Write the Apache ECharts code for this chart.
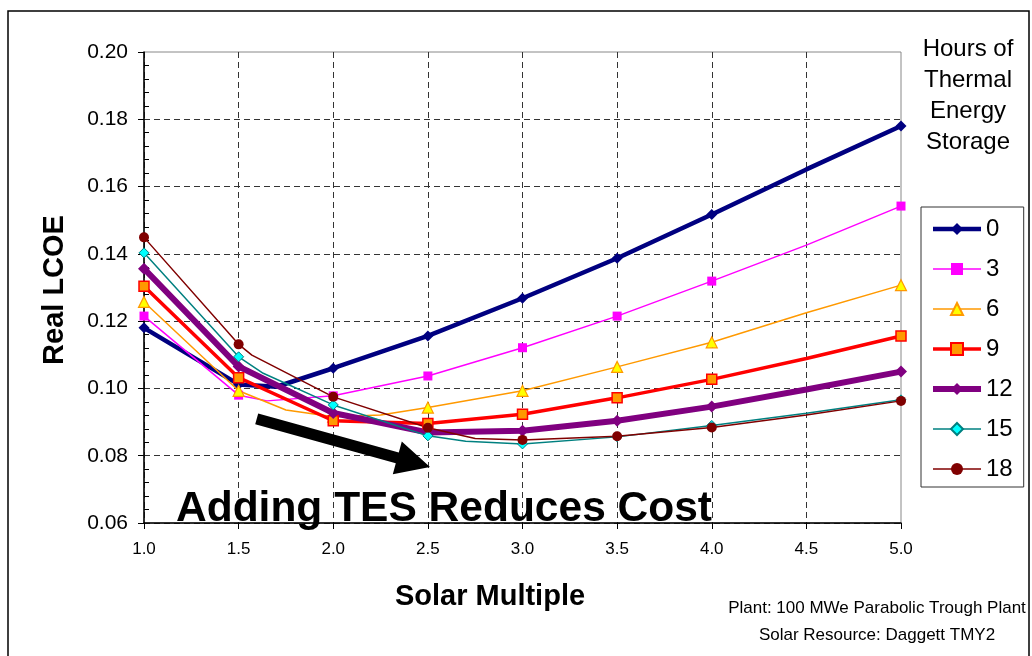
<!DOCTYPE html>
<html>
<head>
<meta charset="utf-8">
<script src="https://cdn.jsdelivr.net/npm/echarts@6/dist/echarts.min.js"></script>
<style>
  html, body { margin: 0; padding: 0; background: #fff; }
  #chart { width: 1032px; height: 656px; }
</style>
</head>
<body>
<div id="chart"></div>
<script>
// Real LCOE versus solar multiple, one curve per hours of thermal energy storage
const storageHours = ['0', '3', '6', '9', '12', '15', '18'];
const xTicks = [1.0, 1.5, 2.0, 2.5, 3.0, 3.5, 4.0, 4.5, 5.0];
const yTicks = [0.06, 0.08, 0.10, 0.12, 0.14, 0.16, 0.18, 0.20];
// solar multiples that carry a marker
const markedSM = [1.0, 1.5, 2.0, 2.5, 3.0, 3.5, 4.0, 5.0];

// [solar multiple, real LCOE]
const tes0  = [[1.0,0.1180],[1.5,0.1012],[1.7,0.1005],[2.0,0.1060],[2.5,0.1156],[3.0,0.1268],[3.5,0.1387],[4.0,0.1517],[4.5,0.1651],[5.0,0.1780]];
const tes3  = [[1.0,0.1215],[1.5,0.0980],[1.65,0.0963],[2.0,0.0978],[2.5,0.1037],[3.0,0.1121],[3.5,0.1215],[4.0,0.1319],[4.5,0.1426],[5.0,0.1542]];
const tes6  = [[1.0,0.1257],[1.5,0.0993],[1.75,0.0936],[2.0,0.0916],[2.25,0.0921],[2.5,0.0943],[3.0,0.0993],[3.5,0.1064],[4.0,0.1137],[4.5,0.1225],[5.0,0.1307]];
const tes9  = [[1.0,0.1304],[1.5,0.1032],[2.0,0.0904],[2.5,0.0896],[3.0,0.0923],[3.5,0.0972],[4.0,0.1027],[4.5,0.1089],[5.0,0.1156]];
const tes12 = [[1.0,0.1356],[1.5,0.1065],[2.0,0.0927],[2.5,0.0869],[3.0,0.0874],[3.5,0.0904],[4.0,0.0946],[4.5,0.0997],[5.0,0.1050]];
const tes15 = [[1.0,0.1403],[1.5,0.1094],[1.63,0.1045],[2.0,0.0951],[2.5,0.0859],[2.7,0.0843],[3.0,0.0835],[3.5,0.0856],[4.0,0.0890],[4.5,0.0926],[5.0,0.0966]];
const tes18 = [[1.0,0.1449],[1.5,0.1131],[1.57,0.1099],[2.0,0.0975],[2.5,0.0883],[2.75,0.0851],[3.0,0.0847],[3.5,0.0858],[4.0,0.0884],[4.5,0.0921],[5.0,0.0963]];

const FONT = '"Liberation Sans", Arial, Helvetica, sans-serif';

// line colour, line width, marker shape, marker size, marker fill, marker border, border width
const styles = [
  ['#000080', 4.5, 'diamond',  11, '#000080', '#000080', 0],
  ['#FF00FF', 1.5, 'rect',      9, '#FF00FF', '#FF00FF', 0],
  ['#FF9900', 1.5, 'triangle', 11, '#FFFF00', '#FF9900', 1.2],
  ['#FF0000', 3.5, 'rect',     10, '#FF9900', '#FF0000', 1.5],
  ['#800080', 6,   'diamond',  12, '#800080', '#800080', 0],
  ['#008080', 1.5, 'diamond',  10, '#00FFFF', '#008080', 1],
  ['#800000', 1.5, 'circle',   10, '#800000', '#800000', 0]
];
const curves = [tes0, tes3, tes6, tes9, tes12, tes15, tes18];

function pointsWithMarkers(pts) {
  return pts.map(p => markedSM.includes(p[0]) ? p : { value: p, symbol: 'none' });
}

const series = curves.map((pts, i) => {
  const s = styles[i];
  return {
    name: storageHours[i],
    type: 'line',
    data: pointsWithMarkers(pts),
    symbol: s[2],
    symbolSize: s[3],
    showAllSymbol: true,
    lineStyle: { color: s[0], width: s[1] },
    itemStyle: { color: s[4], borderColor: s[5], borderWidth: s[6] },
    emphasis: { disabled: true },
    animation: false,
    z: 3
  };
});

const legendItems = storageHours.map((name, i) => {
  const s = styles[i];
  return {
    name: name,
    lineStyle: { color: s[0], width: s[1] }
  };
});

const chart = echarts.init(document.getElementById('chart'), null, { renderer: 'canvas' });

// arrow across the plot pointing to lower cost
const arrowShape = [[258.2,413.6],[398.8,452.6],[401.8,441.5],[430,467],[392.8,474.3],[395.8,463.2],[255.2,424.2]];

chart.setOption({
  backgroundColor: '#ffffff',
  animation: false,
  grid: {
    left: 144, right: 131, top: 52, bottom: 133,
    show: true, borderColor: '#888888', borderWidth: 1, backgroundColor: 'transparent'
  },
  xAxis: {
    type: 'value',
    min: xTicks[0], max: xTicks[xTicks.length - 1], interval: 0.5,
    axisLine: { show: true, onZero: false, lineStyle: { color: '#000', width: 1.5 } },
    axisTick: { show: true, length: 6, lineStyle: { color: '#000' } },
    axisLabel: {
      margin: 18, color: '#000', fontSize: 17, fontFamily: FONT,
      formatter: v => v.toFixed(1)
    },
    splitLine: { show: true, showMaxLine: false, lineStyle: { color: '#333', type: [6, 4], width: 1 } }
  },
  yAxis: [{
    type: 'value',
    min: yTicks[0], max: yTicks[yTicks.length - 1], interval: 0.02,
    axisLine: { show: true, lineStyle: { color: '#000', width: 1.5 } },
    axisTick: { show: true, length: 6, lineStyle: { color: '#000' } },
    axisLabel: {
      margin: 16, color: '#000', fontSize: 21, fontFamily: FONT,
      formatter: v => v.toFixed(2)
    },
    splitLine: { show: true, showMaxLine: false, lineStyle: { color: '#333', type: [6, 4], width: 1 } }
  }, {
    type: 'value', position: 'left',
    min: yTicks[0], max: yTicks[yTicks.length - 1], interval: 0.02,
    axisLine: { show: false },
    axisTick: { show: false, inside: true },
    axisLabel: { show: false },
    splitLine: { show: false },
    minorTick: { show: true, splitNumber: 5, length: 5, lineStyle: { color: '#000', width: 1 } }
  }],
  legend: {
    orient: 'vertical',
    left: 921, top: 207,
    padding: [10, 11, 6, 9],
    itemWidth: 48, itemHeight: 15, itemGap: 16,
    borderColor: '#333', borderWidth: 1,
    backgroundColor: '#fff',
    textStyle: { color: '#000', fontSize: 24, fontFamily: FONT },
    data: legendItems
  },
  graphic: [
    {
      type: 'rect', silent: true, z: 100,
      shape: { x: 8, y: 11, width: 1021, height: 660 },
      style: { fill: 'none', stroke: '#000', lineWidth: 1.5 }
    },
    {
      type: 'text', silent: true, z: 100,
      x: 968, y: 96,
      style: {
        text: 'Hours of\nThermal\nEnergy\nStorage',
        font: '24px ' + FONT, fill: '#000',
        textAlign: 'center', textVerticalAlign: 'middle', lineHeight: 31
      }
    },
    {
      type: 'text', silent: true, z: 100,
      x: 55, y: 290, rotation: Math.PI / 2,
      style: {
        text: 'Real LCOE', font: 'bold 29px ' + FONT, fill: '#000',
        textAlign: 'center', textVerticalAlign: 'middle'
      }
    },
    {
      type: 'text', silent: true, z: 100,
      x: 490, y: 597,
      style: {
        text: 'Solar Multiple', font: 'bold 29px ' + FONT, fill: '#000',
        textAlign: 'center', textVerticalAlign: 'middle'
      }
    },
    {
      type: 'text', silent: true, z: 100,
      x: 877, y: 608,
      style: {
        text: 'Plant: 100 MWe Parabolic Trough Plant', font: '17px ' + FONT, fill: '#000',
        textAlign: 'center', textVerticalAlign: 'middle'
      }
    },
    {
      type: 'text', silent: true, z: 100,
      x: 877, y: 635,
      style: {
        text: 'Solar Resource: Daggett TMY2', font: '17px ' + FONT, fill: '#000',
        textAlign: 'center', textVerticalAlign: 'middle'
      }
    },
    {
      type: 'text', silent: true, z: 100,
      x: 444, y: 509,
      style: {
        text: 'Adding TES Reduces Cost', font: 'bold 42.5px ' + FONT, fill: '#000',
        textAlign: 'center', textVerticalAlign: 'middle'
      }
    },
    {
      type: 'polygon', silent: true, z: 100,
      shape: { points: arrowShape },
      style: { fill: '#000', stroke: 'none' }
    }
  ],
  series: series
});
</script>
</body>
</html>
